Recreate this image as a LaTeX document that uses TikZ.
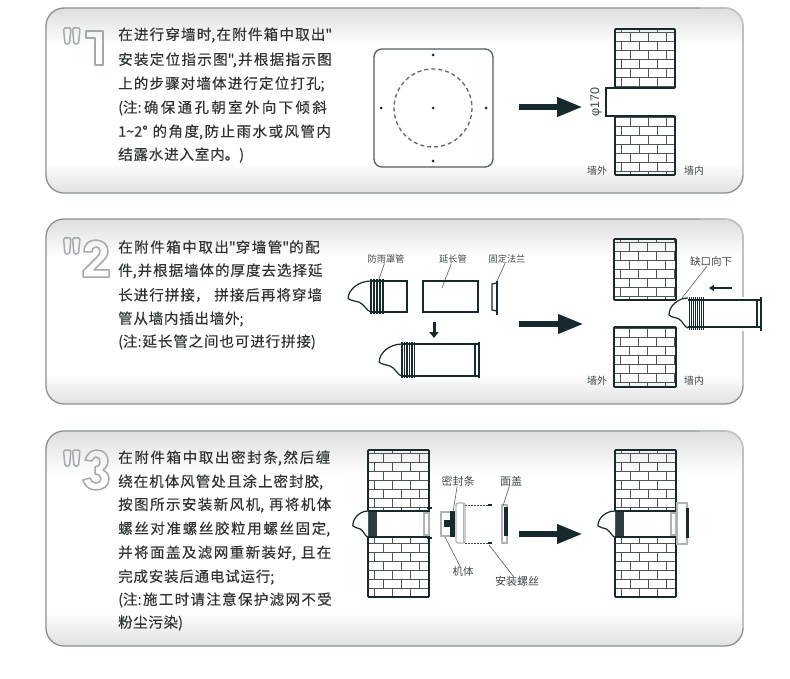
\documentclass[tikz,border=0pt]{standalone}
\usepackage{fontspec}
\usetikzlibrary{arrows.meta,positioning}
\newfontfamily\cjk{Noto Sans CJK SC}
\newfontfamily\cjkbody[FakeBold=0.25]{Noto Sans CJK SC}
\newfontfamily\latinfont{Liberation Sans}
\definecolor{ink}{HTML}{16292C}
\definecolor{bodyink}{HTML}{2E3434}
\definecolor{labelink}{HTML}{3F4A4A}
\definecolor{frame}{HTML}{87938F}
\definecolor{numline}{HTML}{A2ABAB}
\definecolor{brick}{HTML}{4C5654}
\definecolor{shell}{HTML}{AEB5B5}
\pgfdeclareverticalshading{panelfade}{100bp}{color(0bp)=(black!12); color(25bp)=(black!12); color(33bp)=(white); color(65bp)=(white); color(75bp)=(black!13); color(100bp)=(black!13)}
\tikzset{
  bodytext/.style={anchor=west,inner sep=0pt,text width=#1pt,text=bodyink,font=\cjkbody\fontsize{14.5}{14.5}\selectfont,
    execute at begin node={\XeTeXlinebreaklocale "zh"\XeTeXlinebreakskip=0pt plus 6pt\parfillskip=0pt\tolerance=10000\relax}},
  smalltext/.style={inner sep=0pt,text=labelink,font=\cjk\fontsize{#1}{#1}\selectfont},
  numshape/.style={draw=numline,line width=1.5pt,line join=round},
  wallline/.style={draw=ink,line width=1.6pt,rounded corners=0.8pt},
  brickline/.style={draw=brick,line width=0.8pt},
  pipeline/.style={draw=ink,line width=1.2pt},
  heavyline/.style={draw=ink,line width=2pt},
  leader/.style={draw=labelink!80,line width=0.7pt},
  bigarrow/.style={draw=ink,line width=6.5pt,-{Triangle[length=26pt,width=18pt]}},
  tinyarrow/.style={draw=ink,line width=1.6pt,-{Triangle[length=5pt,width=6pt]}},
  shellbox/.style={draw=shell,fill=white,line width=1.2pt},
}
% wall with bricks: x1, y1, x2, y2, offset of the first joint
\newcommand{\brickwall}[5]{
  \begin{scope}
    \clip (#1,#2) rectangle (#3,#4);
    \foreach \r in {0,...,17} {
      \pgfmathsetmacro{\ry}{#2+#5+9*(\r-1)}
      \pgfmathsetmacro{\sx}{#1+6.5+9*mod(\r,2)}
      \draw[brickline] (#1,\ry+9) -- (#3,\ry+9);
      \foreach \c in {-1,...,3} {
        \draw[brickline] ({\sx+\c*18},\ry) -- ({\sx+\c*18},\ry+9);
      }
    }
  \end{scope}
  \draw[wallline] (#1,#2) rectangle (#3,#4);
}
% rain hood: x and y of the upper joint, width factor, height factor
\newcommand{\hoodcap}[4]{
  \draw[pipeline,fill=white,shift={(#1,#2)},xscale=#3,yscale=#4] (0,0) .. controls (-10,0) and (-19,8) .. (-19,17)
    .. controls (-17,19) and (-13,19.5) .. (-10,20.5) .. controls (-6,22) and (-3,30) .. (0,30);
}
\begin{document}
\begin{tikzpicture}[x=1pt,y=-1pt]
  \useasboundingbox (0,0) rectangle (790,679);
  \fill[white] (0,0) rectangle (790,679);

  % panels
  \foreach \ptop/\pbot in {8/193,219/404,431/646} {
    \shade[shading=panelfade,draw=frame,line width=1.3pt,rounded corners=18pt] (46,\ptop) rectangle (743,\pbot);
    \draw[draw=frame!50,line width=1.3pt,rounded corners=18pt] (700,\ptop) -- (743,\ptop) -- (743,\pbot-18);
  }

  % marks and digits
  \foreach \qy in {28,238,450} {
    \foreach \qx in {63.5,72.5} {
      \draw[numshape,rounded corners=1.5pt] (\qx,\qy) -- (\qx+7.5,\qy) -- (\qx+6,\qy+16) -- (\qx+1.5,\qy+16) -- cycle;
    }
  }
  \draw[numshape] (86,31) -- (103,31) -- (103,65) -- (95,65) -- (95,38) -- (86,38) -- cycle;
  \draw[numshape] (84,252) .. controls (84,243) and (90,240) .. (96,240) .. controls (103,240) and (108,245) .. (108,251)
    .. controls (108,256) and (105,259) .. (102,262) -- (94,270) -- (109,270) -- (109,277) -- (83,277) -- (83,271) -- (96,258)
    .. controls (99,255) and (100,253) .. (100,251) .. controls (100,248) and (98,247) .. (96,247)
    .. controls (93,247) and (92,249) .. (92,252) -- cycle;
  \draw[numshape] (85,460) .. controls (87,454) and (91,450) .. (97,450) .. controls (104,450) and (108,455) .. (108,461)
    .. controls (108,465) and (106,468) .. (103,470) .. controls (107,472) and (109,475) .. (109,479)
    .. controls (109,486) and (103,490) .. (96,490) .. controls (90,490) and (85,487) .. (83,480) -- (90,478)
    .. controls (91,481) and (93,483) .. (96,483) .. controls (99,483) and (101,481) .. (101,479)
    .. controls (101,476) and (99,474) .. (95,474) -- (95,467) .. controls (98,467) and (100,465) .. (100,462)
    .. controls (100,459) and (99,457) .. (96,457) .. controls (94,457) and (93,459) .. (92,461) -- cycle;

  % Panel 1: text
  \foreach \n/\ly/\lw/\lt in {
    1/35/220/{在进行穿墙时,在附件箱中取出"},
    2/60/220/{安装定位指示图",并根据指示图},
    3/84/212/{上的步骤对墙体进行定位打孔;},
    4/108/220/{(注:确保通孔朝室外向下倾斜},
    5/132/220/{1{\textasciitilde}2° 的角度,防止雨水或风管内},
    6/155/130/{结露水进入室内。)}} {
    \node[bodytext=\lw] (first\n) at (118,\ly) {\lt};
  }

  % Panel 1: template
  \draw[draw=ink!75,line width=1.3pt,rounded corners=8pt] (374,49) rectangle (493,167);
  \draw[draw=ink!70,line width=1.3pt,dash pattern=on 4pt off 3pt] (433,108) circle (39);
  \foreach \dx/\dy in {433/55,433/161,381/108,486/108,433/108} {
    \fill[ink] (\dx,\dy) circle (1.5);
  }
  \coordinate (arrowa) at (519,107);
  \coordinate (arrowb) at (583,107);
  \draw[bigarrow] (arrowa) -- (arrowb);

  % Panel 1: wall with hole
  \brickwall{615}{29}{675}{88}{3.5}
  \brickwall{615}{116}{675}{175}{1}
  \draw[pipeline] (615,88) -- (606,88) -- (606,116) -- (615,116);
  \node[inner sep=0pt,rotate=90,text=labelink,font=\latinfont\fontsize{12.5}{12.5}\selectfont] (holesize) at (596,102) {φ170};
  \node[smalltext=10] (outa) at (597,171) {墙外};
  \node[smalltext=10] (ina) at (694,171) {墙内};

  % Panel 2: text
  \foreach \n/\ly/\lw/\lt in {
    1/247/209/{在附件箱中取出"穿墙管"的配},
    2/271/209/{件,并根据墙体的厚度去选择延},
    3/295/209/{长进行拼接， 拼接后再将穿墙},
    4/319/129/{管从墙内插出墙外;},
    5/342/202/{(注:延长管之间也可进行拼接)}} {
    \node[bodytext=\lw] (second\n) at (118,\ly) {\lt};
  }

  % Panel 2: parts
  \node[smalltext=9.2] (hoodname) at (386,259) {防雨罩管};
  \node[smalltext=9.2] (tubename) at (453,259) {延长管};
  \node[smalltext=9.2] (flangename) at (507,259) {固定法兰};
  \coordinate (hoodtip) at (378,282);
  \coordinate (tubetip) at (442,288);
  \coordinate (flangetip) at (497,281);
  \draw[leader] (hoodname) -- (hoodtip);
  \draw[leader] (tubename) -- (tubetip);
  \draw[leader] (flangename) -- (flangetip);
  \hoodcap{371}{281}{1.2}{1.03}
  \draw[pipeline] (371,281) rectangle (407,312);
  \foreach \rx in {371,374,377,380,383} {
    \draw[pipeline] (\rx,279) -- (\rx,314);
  }
  \draw[pipeline] (423,281) rectangle (478,312);
  \draw[pipeline] (497,281) -- (497,315);
  \draw[pipeline] (497,283) -- (492,284) -- (492,310) -- (497,311);
  \coordinate (downa) at (434,322);
  \coordinate (downb) at (434,338);
  \draw[draw=ink,line width=3pt,-{Triangle[length=6pt,width=9pt]}] (downa) -- (downb);
  \hoodcap{402}{344}{1.2}{1.07}
  \draw[pipeline] (402,344) -- (478,344) (402,376) -- (478,376);
  \foreach \rx in {402,404.5,407,409.5,412,414.5} {
    \draw[pipeline] (\rx,342) -- (\rx,378);
  }
  \draw[pipeline] (475,344) -- (475,376);
  \draw[heavyline] (479,342) -- (479,378);
  \coordinate (arrowc) at (519,324);
  \coordinate (arrowd) at (584,324);
  \draw[bigarrow] (arrowc) -- (arrowd);

  % Panel 2: pipe into wall
  \brickwall{614}{239}{676}{300}{3.5}
  \brickwall{614}{327}{676}{387}{1}
  \node[smalltext=10.5] (notchname) at (711,261) {缺口向下};
  \coordinate (notchtip) at (682,298);
  \draw[leader] (notchname) -- (notchtip);
  \hoodcap{688}{298}{1}{1}
  \fill[white] (688,297) rectangle (765,331);
  \draw[pipeline] (688,300) -- (760,300) (688,327) -- (760,327);
  \foreach \rx in {689,691,693,695,697,699,701,703} {
    \draw[draw=ink,line width=0.9pt] (\rx,297) -- (\rx,330);
  }
  \draw[pipeline] (757,300) -- (757,327);
  \draw[heavyline] (761,297) -- (761,331);
  \coordinate (lefta) at (732,288);
  \coordinate (leftb) at (709,288);
  \draw[tinyarrow] (lefta) -- (leftb);
  \node[smalltext=10] (outb) at (597,381) {墙外};
  \node[smalltext=10] (inb) at (694,381) {墙内};

  % Panel 3: text
  \foreach \n/\ly/\lw/\lt in {
    1/458/220/{在附件箱中取出密封条,然后缠},
    2/482/210/{绕在机体风管处且涂上密封胶,},
    3/505/220/{按图所示安装新风机, 再将机体},
    4/529/220/{螺丝对准螺丝胶粒用螺丝固定,},
    5/553/220/{并将面盖及滤网重新装好, 且在},
    6/577/160/{完成安装后通电试运行;},
    7/600/220/{(注:施工时请注意保护滤网不受},
    8/623/68/{粉尘污染)}} {
    \node[bodytext=\lw] (third\n) at (118,\ly) {\lt};
  }

  % Panel 3: wall and pipe
  \foreach \wx/\hw in {368/0.8,615/0.9} {
    \brickwall{\wx}{450}{\wx+61}{597}{3.5}
    \fill[white] (\wx,511) rectangle (\wx+61,537);
    \fill[ink!90] (\wx,511) rectangle (\wx+9,537);
    \hoodcap{\wx}{511}{\hw}{0.87}
    \draw[shellbox] (\wx+56,513) rectangle (\wx+61,535);
    \draw[heavyline] (\wx,511) -- (\wx+61,511) (\wx,537) -- (\wx+61,537);
  }
  \foreach \fy in {508,538} {
    \draw[draw=ink,line width=1.6pt] (427,\fy) -- (432,\fy);
  }

  % Panel 3: unit, exploded
  \draw[shellbox] (441,512) rectangle (453,536);
  \fill[ink] (444,520) rectangle (454,527);
  \fill[ink] (450,511) rectangle (455,537);
  \draw[shellbox,rounded corners=2pt] (456,503) rectangle (465,543);
  \draw[draw=shell,line width=1pt] (463,503) -- (463,543);
  \foreach \sy in {505,543} {
    \draw[draw=labelink,line width=0.8pt,dash pattern=on 1.5pt off 1.5pt] (465,\sy) -- (488,\sy);
    \draw[draw=ink,line width=2pt] (488,\sy) -- (492,\sy);
  }
  \draw[shellbox] (502,505) rectangle (507,543);
  \fill[ink] (503.5,507) rectangle (508,536);
  \node[smalltext=11] (sealname) at (458,481) {密封条};
  \node[smalltext=11] (covername) at (511,481) {面盖};
  \node[smalltext=10.5] (bodyname) at (463,572) {机体};
  \node[smalltext=11] (screwname) at (517,581) {安装螺丝};
  \coordinate (sealtip) at (453,512);
  \coordinate (covertip) at (503,506);
  \coordinate (bodytip) at (445,537);
  \coordinate (screwtip) at (489,545);
  \draw[leader] (sealname) -- (sealtip);
  \draw[leader] (covername) -- (covertip);
  \draw[leader] (bodyname) -- (bodytip);
  \draw[leader] (screwname) -- (screwtip);
  \coordinate (arrowe) at (519,534);
  \coordinate (arrowf) at (583,534);
  \draw[bigarrow] (arrowe) -- (arrowf);

  % Panel 3: unit, fitted
  \draw[shellbox] (677,503) rectangle (687,544);
  \fill[ink] (685.5,508) rectangle (689,538);
\end{tikzpicture}
\end{document}
